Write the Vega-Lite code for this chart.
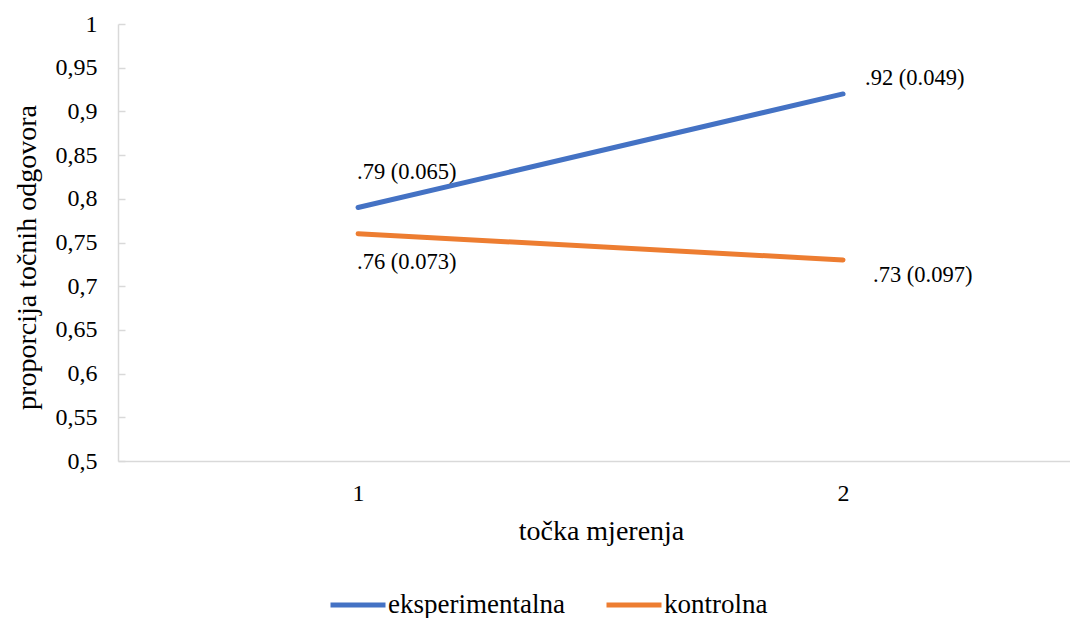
{
  "$schema": "https://vega.github.io/schema/vega-lite/v6.json",
  "width": 952,
  "height": 437,
  "autosize": "none",
  "padding": {"left": 118, "top": 24, "right": 0, "bottom": 157},
  "background": "white",
  "config": {
    "view": {"stroke": null},
    "font": "Liberation Serif",
    "text": {"font": "Liberation Serif"},
    "legend": {"labelFont": "Liberation Serif"},
    "axis": {"grid": false, "labelFont": "Liberation Serif", "titleFont": "Liberation Serif", "labelColor": "#000000", "titleColor": "#000000", "titleFontWeight": "normal", "domainColor": "#d9d9d9", "domainWidth": 1.5, "tickColor": "#d9d9d9", "tickWidth": 1.5}
  },
  "data": {
    "values": [
      {"tocka": 1, "skupina": "eksperimentalna", "p": 0.79, "oznaka": ".79 (0.065)"},
      {"tocka": 2, "skupina": "eksperimentalna", "p": 0.92, "oznaka": ".92 (0.049)"},
      {"tocka": 1, "skupina": "kontrolna", "p": 0.76, "oznaka": ".76 (0.073)"},
      {"tocka": 2, "skupina": "kontrolna", "p": 0.73, "oznaka": ".73 (0.097)"}
    ]
  },
  "encoding": {
    "x": {
      "field": "tocka", "type": "quantitative",
      "scale": {"domain": [0.505, 2.468], "nice": false, "zero": false},
      "axis": {"title": "točka mjerenja", "values": [1, 2], "format": "d", "ticks": false, "labelFontSize": 24, "labelPadding": 20, "titleFontSize": 28, "titlePadding": 12, "titleX": 483, "labelFlush": false}
    },
    "y": {
      "field": "p", "type": "quantitative",
      "scale": {"domain": [0.5, 1], "nice": false, "zero": false},
      "axis": {"title": "proporcija  točnih  odgovora", "values": [0.5, 0.55, 0.6, 0.65, 0.7, 0.75, 0.8, 0.85, 0.9, 0.95, 1], "labelExpr": "replace(format(datum.value, '.2~f'), '.', ',')", "tickSize": -7, "labelPadding": 28, "labelFontSize": 24, "titleFontSize": 28, "titleAngle": -90, "titleBaseline": "middle", "titleX": -91, "titleY": 233, "labelFlush": false}
    }
  },
  "layer": [
    {
      "mark": {"type": "line", "strokeWidth": 5, "strokeCap": "round", "clip": true},
      "encoding": {
        "color": {
          "field": "skupina", "type": "nominal",
          "scale": {"domain": ["eksperimentalna", "kontrolna"], "range": ["#4472C4", "#ED7D31"]},
          "legend": {"title": null, "orient": "none", "direction": "horizontal", "legendX": 210, "legendY": 551, "symbolType": "stroke", "symbolSize": 3025, "symbolStrokeWidth": 5, "labelFont": "Liberation Serif", "labelFontSize": 27, "labelColor": "#000000", "labelOffset": 0, "labelLimit": 400, "columnPadding": 31, "padding": 0}
        }
      }
    },
    {
      "transform": [{"filter": "datum.tocka == 1 && datum.skupina == 'eksperimentalna'"}],
      "mark": {"type": "text", "align": "left", "baseline": "alphabetic", "dx": -1, "dy": -29, "fontSize": 22.5, "font": "Liberation Serif", "color": "#000000"},
      "encoding": {"text": {"field": "oznaka"}}
    },
    {
      "transform": [{"filter": "datum.tocka == 1 && datum.skupina == 'kontrolna'"}],
      "mark": {"type": "text", "align": "left", "baseline": "alphabetic", "dx": -1, "dy": 35, "fontSize": 22.5, "font": "Liberation Serif", "color": "#000000"},
      "encoding": {"text": {"field": "oznaka"}}
    },
    {
      "transform": [{"filter": "datum.tocka == 2 && datum.skupina == 'eksperimentalna'"}],
      "mark": {"type": "text", "align": "left", "baseline": "alphabetic", "dx": 22, "dy": -9, "fontSize": 22.5, "font": "Liberation Serif", "color": "#000000"},
      "encoding": {"text": {"field": "oznaka"}}
    },
    {
      "transform": [{"filter": "datum.tocka == 2 && datum.skupina == 'kontrolna'"}],
      "mark": {"type": "text", "align": "left", "baseline": "alphabetic", "dx": 30, "dy": 22, "fontSize": 22.5, "font": "Liberation Serif", "color": "#000000"},
      "encoding": {"text": {"field": "oznaka"}}
    }
  ]
}
